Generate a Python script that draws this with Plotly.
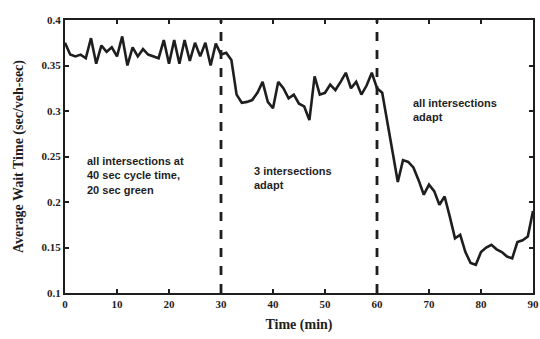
import plotly.graph_objects as go

time_min = list(range(0, 91))
avg_wait = [
    0.375, 0.362, 0.360, 0.362, 0.358, 0.380, 0.352, 0.372, 0.365, 0.370,
    0.360, 0.382, 0.350, 0.370, 0.360, 0.368, 0.362, 0.360, 0.358, 0.378,
    0.352, 0.378, 0.352, 0.378, 0.355, 0.375, 0.360, 0.375, 0.350, 0.374,
    0.362, 0.364, 0.356, 0.318, 0.309, 0.310, 0.312, 0.320, 0.332, 0.310,
    0.303, 0.332, 0.325, 0.314, 0.318, 0.308, 0.305, 0.290, 0.338, 0.318,
    0.320, 0.329, 0.323, 0.332, 0.342, 0.325, 0.332, 0.318, 0.328, 0.342,
    0.325, 0.320, 0.285, 0.255, 0.222, 0.246, 0.244, 0.238, 0.224, 0.208,
    0.219, 0.212, 0.197, 0.206, 0.184, 0.160, 0.164, 0.145, 0.133, 0.131,
    0.145, 0.150, 0.153, 0.148, 0.145, 0.140, 0.138, 0.156, 0.158, 0.162,
    0.190,
]
phase_bounds = [30, 60]
x_ticks = [0, 10, 20, 30, 40, 50, 60, 70, 80, 90]
y_ticks = [0.1, 0.15, 0.2, 0.25, 0.3, 0.35, 0.4]
y_tick_labels = ["0.1", "0.15", "0.2", "0.25", "0.3", "0.35", "0.4"]
notes = [
    (3.8, 0.2535, "all intersections at<br>40 sec cycle time,<br>20 sec green"),
    (36.0, 0.2425, "3 intersections<br>adapt"),
    (66.5, 0.3175, "all intersections<br>adapt"),
]

fig = go.Figure()
fig.add_trace(go.Scatter(x=time_min, y=avg_wait, mode="lines",
                         line=dict(color="#1e1e1e", width=2.6), showlegend=False))

for b in phase_bounds:
    fig.add_shape(type="line", x0=b, x1=b, y0=0.1, y1=0.4, xref="x", yref="y",
                  line=dict(color="#1e1e1e", width=2.8, dash="dash"))

for x, y, t in notes:
    fig.add_annotation(x=x, y=y, text=t, showarrow=False, xanchor="left", yanchor="top",
                       align="left", font=dict(family="Liberation Sans", size=11,
                                               color="#1e1e1e", weight="bold"))

axis_common = dict(showline=True, linecolor="#1e1e1e", linewidth=2, mirror="ticks",
                   ticks="inside", ticklen=4, tickcolor="#1e1e1e", tickwidth=1.5,
                   showgrid=False, zeroline=False, automargin=False,
                   tickfont=dict(family="Liberation Serif", size=11, color="#1e1e1e", weight="bold"))

fig.update_xaxes(range=[0, 90], tickvals=x_ticks, **axis_common,
                 title=dict(text="Time (min)", standoff=10,
                            font=dict(family="Liberation Serif", size=14, color="#1e1e1e", weight="bold")))
fig.update_yaxes(range=[0.1, 0.4], tickvals=y_ticks, ticktext=y_tick_labels, **axis_common,
                 title=dict(text="Average Wait Time (sec/veh-sec)", standoff=15,
                            font=dict(family="Liberation Serif", size=14, color="#1e1e1e", weight="bold")))

fig.update_layout(width=540, height=339, margin=dict(l=65, r=7, t=20, b=46),
                  plot_bgcolor="white", paper_bgcolor="white")

fig.write_html("out.html", config={"displayModeBar": False},
               post_script="document.body.style.margin='0';document.body.style.overflow='hidden';")
